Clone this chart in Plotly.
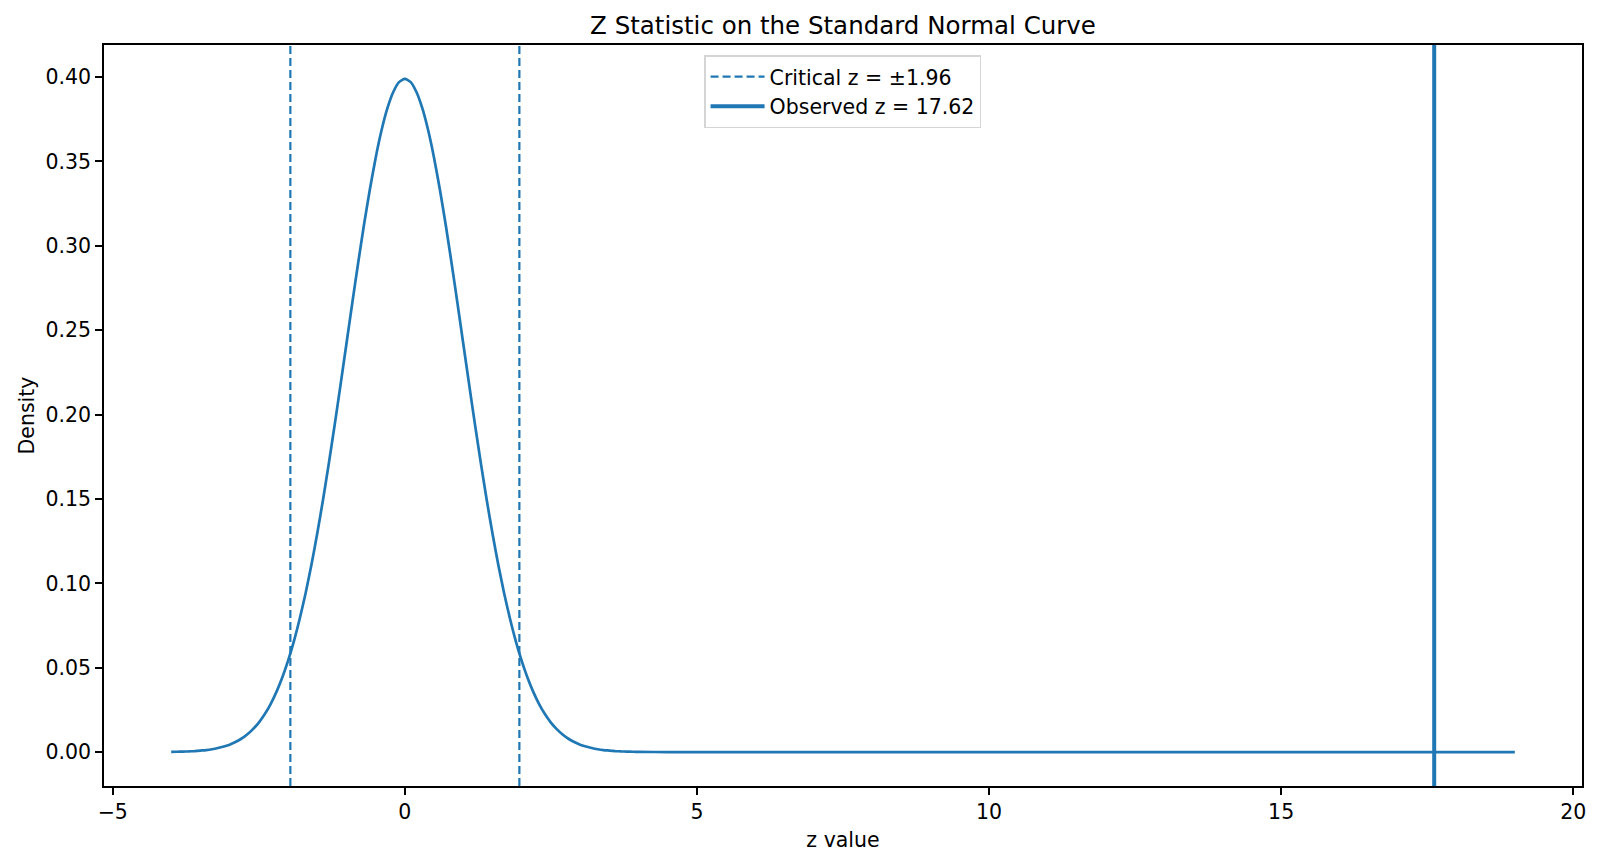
import plotly.graph_objects as go

# Standard normal density curve (step 0.1 on the bell, then the flat tail)
z_values = [-4.0, -3.9, -3.8, -3.7, -3.6, -3.5, -3.4, -3.3, -3.2, -3.1,
            -3.0, -2.9, -2.8, -2.7, -2.6, -2.5, -2.4, -2.3, -2.2, -2.1,
            -2.0, -1.9, -1.8, -1.7, -1.6, -1.5, -1.4, -1.3, -1.2, -1.1,
            -1.0, -0.9, -0.8, -0.7, -0.6, -0.5, -0.4, -0.3, -0.2, -0.1,
            0.0, 0.1, 0.2, 0.3, 0.4, 0.5, 0.6, 0.7, 0.8, 0.9,
            1.0, 1.1, 1.2, 1.3, 1.4, 1.5, 1.6, 1.7, 1.8, 1.9,
            2.0, 2.1, 2.2, 2.3, 2.4, 2.5, 2.6, 2.7, 2.8, 2.9,
            3.0, 3.1, 3.2, 3.3, 3.4, 3.5, 3.6, 3.7, 3.8, 3.9,
            4.0, 4.5, 5.0, 7.5, 10.0, 12.5, 15.0, 17.5, 19.0]
density = [0.0001, 0.0002, 0.0003, 0.0004, 0.0006, 0.0009, 0.0012, 0.0017, 0.0024, 0.0033,
           0.0044, 0.0060, 0.0079, 0.0104, 0.0136, 0.0175, 0.0224, 0.0283, 0.0355, 0.0440,
           0.0540, 0.0656, 0.0790, 0.0940, 0.1109, 0.1295, 0.1497, 0.1714, 0.1942, 0.2179,
           0.2420, 0.2661, 0.2897, 0.3123, 0.3332, 0.3521, 0.3683, 0.3814, 0.3910, 0.3970,
           0.3989, 0.3970, 0.3910, 0.3814, 0.3683, 0.3521, 0.3332, 0.3123, 0.2897, 0.2661,
           0.2420, 0.2179, 0.1942, 0.1714, 0.1497, 0.1295, 0.1109, 0.0940, 0.0790, 0.0656,
           0.0540, 0.0440, 0.0355, 0.0283, 0.0224, 0.0175, 0.0136, 0.0104, 0.0079, 0.0060,
           0.0044, 0.0033, 0.0024, 0.0017, 0.0012, 0.0009, 0.0006, 0.0004, 0.0003, 0.0002,
           0.0001, 0.0, 0.0, 0.0, 0.0, 0.0, 0.0, 0.0, 0.0]

critical_z = [-1.96, 1.96]
observed_z = 17.62

blue = "#1f77b4"
font = "DejaVu Sans"
fs = 20.5

fig = go.Figure()
fig.add_trace(go.Scatter(x=z_values, y=density, mode="lines",
                         line=dict(color=blue, width=2.7, shape="spline", smoothing=0.6),
                         showlegend=False, hoverinfo="skip"))

for cz in critical_z:
    fig.add_shape(type="line", xref="x", yref="paper", x0=cz, x1=cz, y0=0, y1=1,
                  line=dict(color=blue, width=2.2, dash="8px,4px"))
fig.add_shape(type="line", xref="x", yref="paper", x0=observed_z, x1=observed_z, y0=0, y1=1,
              line=dict(color=blue, width=4))

fig.add_trace(go.Scatter(x=[None], y=[None], mode="lines", name="Critical z = ±1.96",
                         line=dict(color=blue, width=2.2, dash="8px,4px")))
fig.add_trace(go.Scatter(x=[None], y=[None], mode="lines", name=f"Observed z = {observed_z:.2f}",
                         line=dict(color=blue, width=4)))

axis_common = dict(showline=True, linecolor="black", linewidth=1.6, mirror=True, ticks="outside",
                   ticklen=7, tickwidth=1.6, tickcolor="black", showgrid=False, zeroline=False,
                   tickfont=dict(family=font, size=fs, color="black"))

fig.update_layout(
    width=1600, height=864,
    paper_bgcolor="white", plot_bgcolor="white",
    margin=dict(l=104, r=18, t=45, b=78),
    title=dict(text="Z Statistic on the Standard Normal Curve", xref="paper", x=0.5, xanchor="center",
               y=0.971, yanchor="middle", font=dict(family=font, size=24.5, color="black")),
    xaxis=dict(range=[-5.15, 20.15], tickvals=[-5, 0, 5, 10, 15, 20], ticktext=["−5", "0", "5", "10", "15", "20"],
               title=dict(text="z value", font=dict(family=font, size=fs, color="black"), standoff=9),
               **axis_common),
    yaxis=dict(range=[-0.0201, 0.419], tickvals=[0, 0.05, 0.1, 0.15, 0.2, 0.25, 0.3, 0.35, 0.4],
               tickformat=".2f",
               title=dict(text="Density", font=dict(family=font, size=fs, color="black"), standoff=5),
               **axis_common),
    legend=dict(x=0.406, y=0.986, xanchor="left", yanchor="top", bgcolor="white",
                bordercolor="#d5d5d5", borderwidth=1.5, font=dict(family=font, size=fs, color="black"),
                tracegroupgap=0, itemwidth=54),
    font=dict(family=font),
)

fig.write_html("out.html")
